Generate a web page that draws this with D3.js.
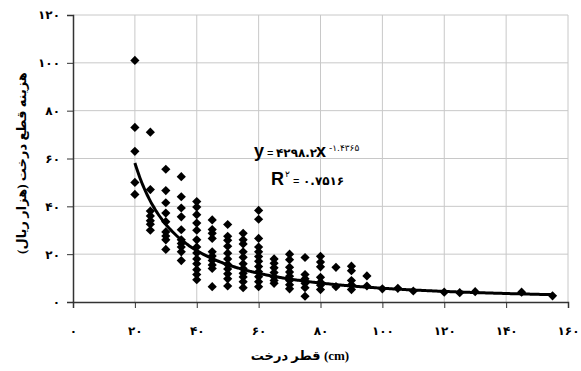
<!DOCTYPE html>
<html><head><meta charset="utf-8">
<script src="https://cdn.jsdelivr.net/npm/d3@7"></script>
<style>
html,body{margin:0;padding:0;background:#fff;}
svg{display:block;}
</style></head>
<body><svg id="c" width="581" height="371"></svg>
<script>
// ---- data ----
const diameters = [20,25,30,35,40,45,50,55,60,65,70,75,80,85,90,95,100,105,110,120,125,130,145,155];
const costs = [
  [101,73,63,50,45],
  [71,47,38,36,34,32.5,30],
  [55.5,46.6,41.5,37.2,33.6,29.3,27.6,26,22],
  [52.4,44,39.3,35.6,30.2,26,24.5,23,21,17.3],
  [42,39.7,36.5,33,30,26,23,20.5,18,16,13.5,11.5,9.3],
  [34.3,30.3,28.7,26.6,21,19.2,17.4,15.5,14,6.4],
  [32.4,27.5,25.8,23.3,20.4,18,15.7,13.8,11.8,9.7,6.7],
  [28.7,26,24.3,21,18.7,16,14,12,10.5,8.5,6],
  [38.3,34.6,26.6,23,21,19,17,14.8,12.7,10.6,8.5,6.4],
  [18,16.2,14.3,12.3,10.5,9,7.8],
  [20,17.7,14.5,12.5,10.8,9,7.2,5.5],
  [18.6,11.5,9.7,7.8,6,2.4],
  [19.1,16.7,14.7,10.3,8.3,7,5.2],
  [14.5,6.4],
  [15,13.1,9,7.2,5.2],
  [10.9,6.7],
  [5.5],[5.7],[4.6],[4.1],[3.9],[4.3],[4.1],[2.6]
];
const xTicks = [0,20,40,60,80,100,120,140,160];
const yTicks = [0,20,40,60,80,100,120];
const fitA = 4298.2, fitB = -1.4365;
const xTitle = "قطر درخت (cm)";
const yTitle = "هزینه قطع درخت (هزار ریال)";

const fa = n => String(n).replace(/[0-9]/g, d => "۰۱۲۳۴۵۶۷۸۹"[+d]);

// ---- layout ----
const svg = d3.select("#c");
const L = 73, R = 568, T = 15, B = 302;
const x = d3.scaleLinear().domain([0,160]).range([L,R]);
const y = d3.scaleLinear().domain([0,120]).range([B,T]);
const grid = "#c8c8c8";
const lblFont = "'DejaVu Sans', sans-serif";
const latin = "'Liberation Sans',Arial,sans-serif";

// gridlines
svg.append("g").selectAll("line").data(yTicks.filter(d=>d>0)).join("line")
  .attr("x1",L).attr("x2",R).attr("y1",d=>y(d)).attr("y2",d=>y(d))
  .attr("stroke",grid).attr("stroke-width",1);
svg.append("g").selectAll("line").data(xTicks.filter(d=>d>0)).join("line")
  .attr("x1",d=>x(d)).attr("x2",d=>x(d)).attr("y1",T).attr("y2",B)
  .attr("stroke",grid).attr("stroke-width",1);

// axes
const yAxis = d3.axisLeft(y).tickValues(yTicks).tickSize(6).tickFormat(fa);
const gy = svg.append("g").attr("transform",`translate(${L},0)`).call(yAxis);
gy.select(".domain").attr("stroke","#333").attr("stroke-width",1.5);
gy.selectAll(".tick line").attr("stroke","#333");
gy.selectAll("text").attr("x",-13).attr("font-family",lblFont)
  .attr("font-weight","bold").attr("font-size",12).attr("fill","#000");

const xAxis = d3.axisBottom(x).tickValues(xTicks).tickSize(6).tickFormat(fa);
const gx = svg.append("g").attr("transform",`translate(0,${B})`).call(xAxis);
gx.select(".domain").attr("stroke","#333").attr("stroke-width",1.5);
gx.selectAll(".tick line").attr("stroke","#333");
gx.selectAll("text").attr("y",24).attr("font-family",lblFont)
  .attr("font-weight","bold").attr("font-size",12).attr("fill","#000");

// points
const pts = [];
diameters.forEach((d,i)=>costs[i].forEach(v=>pts.push([d,v])));
const s = 4.6;
svg.append("g").selectAll("path").data(pts).join("path")
  .attr("d",p=>{const cx=x(p[0]), cy=y(p[1]);
    return `M${cx},${cy-s}L${cx+s},${cy}L${cx},${cy+s}L${cx-s},${cy}Z`;})
  .attr("fill","#000");

// power trendline
const xmin = d3.min(diameters), xmax = d3.max(diameters);
const curve = d3.range(xmin, xmax+0.01, 0.5).map(v=>[v, fitA*Math.pow(v,fitB)]);
svg.append("path").datum(curve)
  .attr("d", d3.line().x(d=>x(d[0])).y(d=>y(d[1])).curve(d3.curveBasis))
  .attr("fill","none").attr("stroke","#000").attr("stroke-width",3);

// equation
const eq = svg.append("g");
eq.append("text").attr("x",254).attr("y",157).attr("font-family",latin)
  .attr("font-weight","bold").attr("font-size",18).text("y");
eq.append("text").attr("x",267).attr("y",157).attr("font-family",latin)
  .attr("font-size",11).text("=");
eq.append("text").attr("x",276).attr("y",157).attr("font-family",lblFont)
  .attr("font-size",12).attr("font-weight","bold").text(fa("4298.2"));
eq.append("text").attr("x",316).attr("y",157).attr("font-family",latin)
  .attr("font-weight","bold").attr("font-size",18).text("x");
eq.append("text").attr("x",329).attr("y",151).attr("font-family",lblFont)
  .attr("font-size",9).text("-" + fa("1.4365"));
eq.append("text").attr("x",271).attr("y",185).attr("font-family",latin)
  .attr("font-weight","bold").attr("font-size",18).text("R");
eq.append("text").attr("x",285).attr("y",177).attr("font-family",lblFont)
  .attr("font-size",9).text(fa("2"));
eq.append("text").attr("x",293).attr("y",185).attr("font-family",latin)
  .attr("font-size",11).text("=");
eq.append("text").attr("x",303).attr("y",185).attr("font-family",lblFont)
  .attr("font-size",12).attr("font-weight","bold").text(fa("0.7516"));

// titles
svg.append("text").attr("x",300).attr("y",360).attr("text-anchor","middle")
  .attr("font-family","'Liberation Serif','DejaVu Sans',serif").attr("font-weight","bold")
  .attr("font-size",13).text(xTitle);
svg.append("text").attr("transform","translate(26,163) rotate(-90)").attr("text-anchor","middle")
  .attr("font-family","'Liberation Serif','DejaVu Sans',serif").attr("font-weight","bold")
  .attr("font-size",13).text(yTitle);
</script></body></html>
